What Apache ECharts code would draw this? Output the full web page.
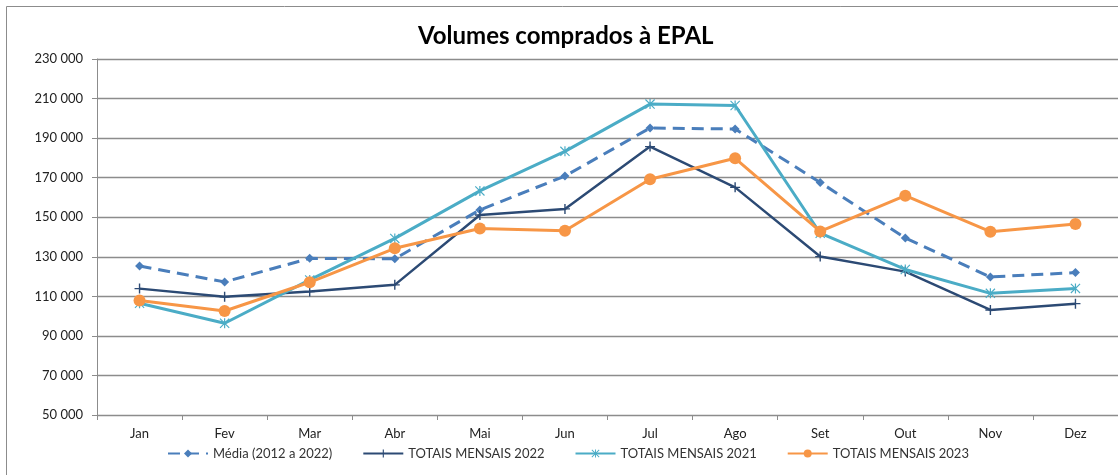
<!DOCTYPE html>
<html>
<head>
<meta charset="utf-8">
<script src="https://cdn.jsdelivr.net/npm/echarts@6/dist/echarts.min.js"></script>
<style>
  html, body { margin: 0; padding: 0; background: #fff; }
  #chart { width: 1118px; height: 475px; }
</style>
</head>
<body>
<div id="chart"></div>
<script>
var months = ["Jan", "Fev", "Mar", "Abr", "Mai", "Jun", "Jul", "Ago", "Set", "Out", "Nov", "Dez"];
var media = [125300, 117300, 129200, 129000, 153700, 170800, 195100, 194600, 167600, 139500, 119800, 122000];
var totais2022 = [113900, 109800, 112400, 115800, 151100, 154200, 185700, 165100, 130100, 122500, 103100, 106300];
var totais2021 = [106500, 96400, 118300, 139300, 163300, 183300, 207200, 206500, 141900, 123600, 111500, 114000];
var totais2023 = [107900, 102600, 117100, 134300, 144300, 143200, 169200, 179800, 142800, 160900, 142700, 146600];

var plusSymbol = 'path://M4.3,0 L5.7,0 L5.7,10 L4.3,10 Z M0,4.3 L10,4.3 L10,5.7 L0,5.7 Z';
var starSymbol = 'path://M4.4,0 L5.6,0 L5.6,10 L4.4,10 Z M0,0.8 L0.8,0 L10,9.2 L9.2,10 Z M9.2,0 L10,0.8 L0.8,10 L0,9.2 Z';

var chart = echarts.init(document.getElementById("chart"));
var font = "Lato, 'Noto Sans', sans-serif";

var option = {
    animation: false,
    textStyle: { fontFamily: font },
    graphic: [{
        type: 'rect',
        shape: { x: 6.5, y: 6.5, width: 1200, height: 500 },
        style: { fill: 'none', stroke: '#8c8c8c', lineWidth: 1 },
        silent: true
    }],
    title: {
        text: "Volumes comprados à EPAL",
        left: 413,
        top: 19,
        textStyle: { fontFamily: font, fontSize: 24, fontWeight: 'bold', color: '#000' }
    },
    legend: {
        bottom: 10,
        left: 162,
        itemWidth: 40,
        itemHeight: 10,
        itemGap: 30,
        textStyle: { fontFamily: font, fontSize: 13, color: '#333' },
        data: ["Média (2012 a 2022)", "TOTAIS MENSAIS 2022", "TOTAIS MENSAIS 2021", "TOTAIS MENSAIS 2023"]
    },
    grid: { left: 97, right: -2, top: 59, bottom: 60 },
    xAxis: {
        type: 'category',
        data: months,
        boundaryGap: true,
        axisLine: { lineStyle: { color: '#8c8c8c', width: 1 } },
        axisTick: { show: true, length: 5, alignWithLabel: false, lineStyle: { color: '#8c8c8c' } },
        axisLabel: { color: '#222', fontSize: 13, margin: 12 }
    },
    yAxis: {
        type: 'value',
        min: 50000,
        max: 230000,
        interval: 20000,
        axisLine: { show: true, lineStyle: { color: '#8c8c8c', width: 1 } },
        axisTick: { show: true, length: 5, lineStyle: { color: '#8c8c8c' } },
        splitLine: { lineStyle: { color: '#8c8c8c', width: 1.3 } },
        axisLabel: {
            color: '#222',
            fontSize: 13,
            margin: 14,
            formatter: function (v) {
                return String(v).replace(/\B(?=(\d{3})+(?!\d))/g, ' ');
            }
        }
    },
    series: [
        {
            name: "Média (2012 a 2022)",
            type: 'line',
            data: media,
            symbol: 'diamond',
            symbolSize: 9,
            lineStyle: { color: '#4a7ebb', width: 3, type: [12, 7] },
            itemStyle: { color: '#4a7ebb' },
            z: 3
        },
        {
            name: "TOTAIS MENSAIS 2022",
            type: 'line',
            data: totais2022,
            symbol: plusSymbol,
            symbolSize: 10,
            lineStyle: { color: '#2c4a74', width: 2.5 },
            itemStyle: { color: '#2c4a74' },
            z: 4
        },
        {
            name: "TOTAIS MENSAIS 2021",
            type: 'line',
            data: totais2021,
            symbol: starSymbol,
            symbolSize: 10,
            lineStyle: { color: '#4bacc6', width: 3 },
            itemStyle: { color: '#4bacc6' },
            z: 5
        },
        {
            name: "TOTAIS MENSAIS 2023",
            type: 'line',
            data: totais2023,
            symbol: 'circle',
            symbolSize: 12,
            lineStyle: { color: '#f79646', width: 3 },
            itemStyle: { color: '#f79646' },
            z: 6
        }
    ]
};
chart.setOption(option);
</script>
</body>
</html>
